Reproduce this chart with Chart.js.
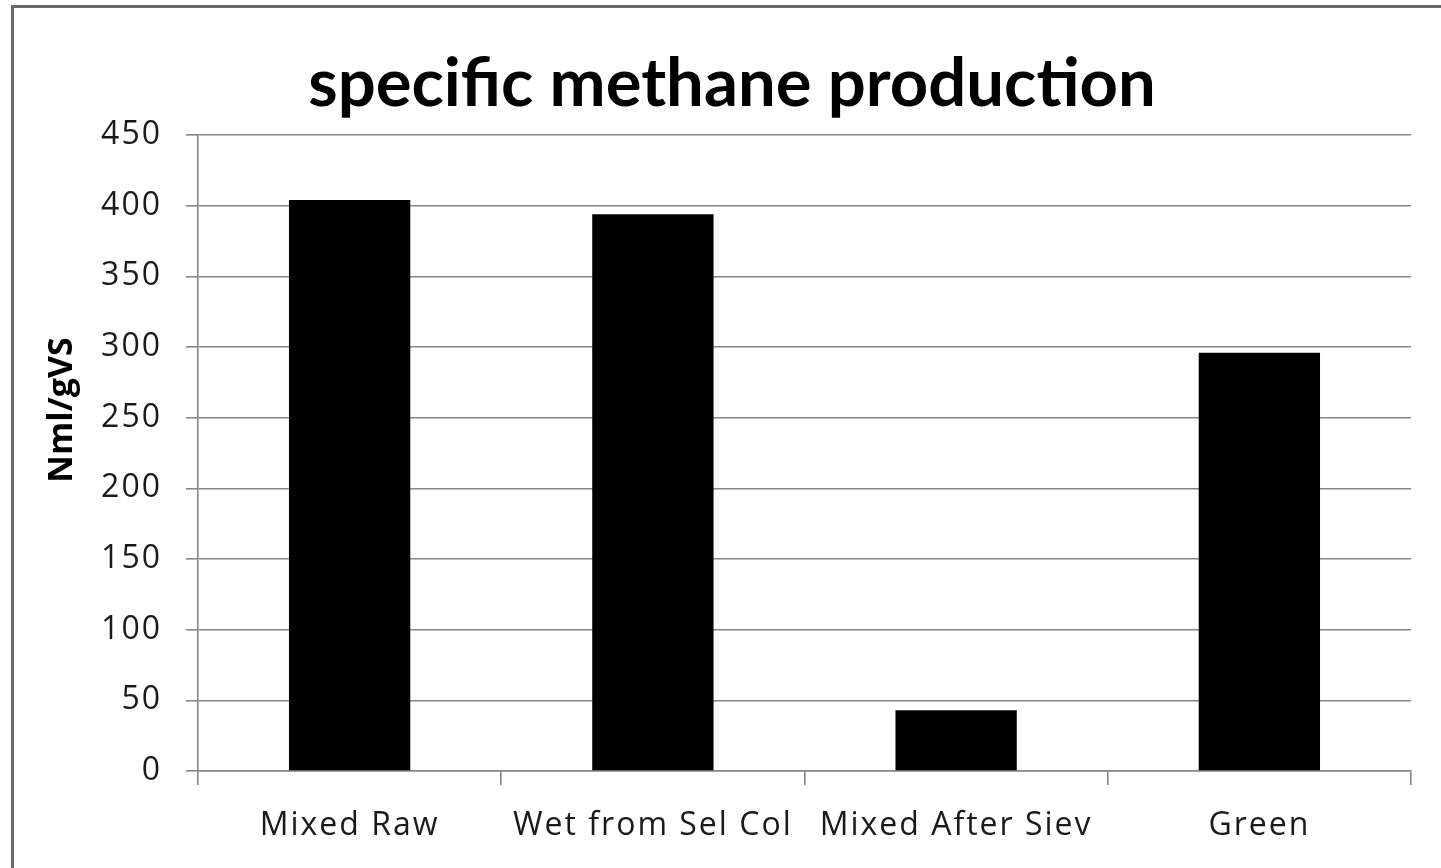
<!DOCTYPE html>
<html>
<head>
<meta charset="utf-8">
<title>specific methane production</title>
<script src="https://cdn.jsdelivr.net/npm/chart.js@4.4.1/dist/chart.umd.min.js"></script>
<style>
  html, body { margin: 0; padding: 0; background: #ffffff; overflow: hidden; }
  #wrap { position: relative; width: 1441px; height: 868px; }
  #frame {
    position: absolute; left: 11px; top: 5px; right: -20px; bottom: -20px;
    border: 3px solid #6a6a6a; pointer-events: none;
  }
  canvas { position: absolute; left: 0; top: 0; }
</style>
</head>
<body>
<div id="wrap">
  <canvas id="chart" width="1441" height="868"></canvas>
  <div id="frame"></div>
</div>
<script>
// Specific methane production per substrate (Nml per g volatile solids)
const chartTitle = 'specific methane production';
const yAxisTitle = 'Nml/gVS';
const categories = ['Mixed Raw', 'Wet from Sel Col', 'Mixed After Siev', 'Green'];
const methaneYield = [404, 394, 43, 296];
const yMin = 0;
const yMax = 450;
const yStep = 50;

const titleFont = 'Lato, "Open Sans", "Liberation Sans", sans-serif';
const labelFont = '"Open Sans", Lato, "Liberation Sans", sans-serif';
const gridColor = '#868686';
const tickSpacing = '2px';

// Slightly open letter spacing for the axis tick labels
const spacing = {
  id: 'spacing',
  beforeUpdate(chart) { chart.ctx.letterSpacing = tickSpacing; },
  beforeDraw(chart) { chart.ctx.letterSpacing = tickSpacing; }
};

// Title and rotated axis caption drawn on the canvas after the chart
const captions = {
  id: 'captions',
  afterDraw(chart) {
    const ctx = chart.ctx;
    ctx.save();
    ctx.letterSpacing = '0px';
    ctx.fillStyle = '#000000';
    ctx.textAlign = 'center';
    ctx.textBaseline = 'middle';
    ctx.font = 'bold 67px ' + titleFont;
    ctx.fillText(chartTitle, 732, 84);

    ctx.translate(62, 410);
    ctx.rotate(-Math.PI / 2);
    ctx.font = 'bold 34px ' + labelFont;
    ctx.fillText(yAxisTitle, 0, 0);
    ctx.restore();
  }
};

new Chart(document.getElementById('chart'), {
  type: 'bar',
  data: {
    labels: categories,
    datasets: [{
      label: yAxisTitle,
      data: methaneYield,
      backgroundColor: '#000000',
      borderWidth: 0,
      categoryPercentage: 0.8,
      barPercentage: 0.5
    }]
  },
  options: {
    responsive: false,
    animation: false,
    devicePixelRatio: 1,
    layout: { padding: { left: 30, right: 30, top: 135, bottom: 0 } },
    plugins: {
      legend: { display: false },
      title: { display: false },
      tooltip: { enabled: false }
    },
    scales: {
      x: {
        offset: true,
        grid: {
          display: true,
          offset: true,
          drawOnChartArea: false,
          drawTicks: true,
          tickLength: 14,
          color: gridColor,
          lineWidth: 1.6
        },
        border: { display: true, color: gridColor, width: 1.6 },
        ticks: {
          color: '#1a1a1a',
          padding: 22,
          maxRotation: 0,
          autoSkip: false,
          font: { family: labelFont, size: 32 }
        },
        afterFit(scale) { scale.height = 97; }
      },
      y: {
        min: yMin,
        max: yMax,
        grid: {
          color: gridColor,
          lineWidth: 1.6,
          drawTicks: true,
          tickLength: 12
        },
        border: { display: true, color: gridColor, width: 1.6 },
        ticks: {
          stepSize: yStep,
          color: '#1a1a1a',
          padding: 24,
          font: { family: labelFont, size: 32 }
        },
        afterFit(scale) { scale.width = 168; }
      }
    }
  },
  plugins: [spacing, captions]
});
</script>
</body>
</html>
